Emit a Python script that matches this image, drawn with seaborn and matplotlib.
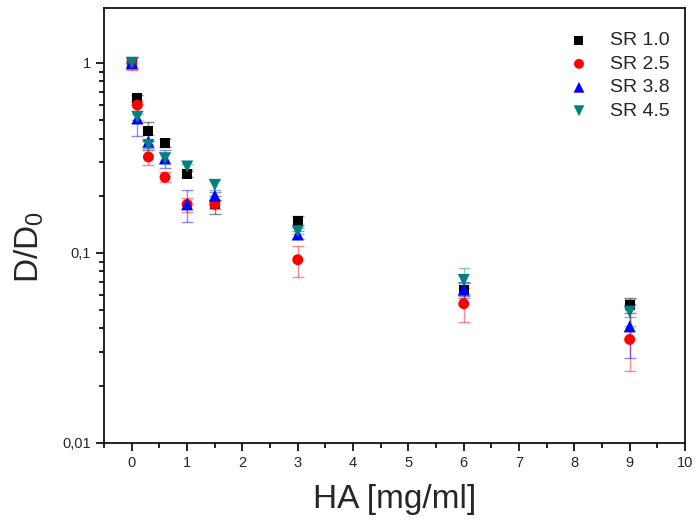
import numpy as np
import pandas as pd
import matplotlib
matplotlib.use("Agg")
import matplotlib.pyplot as plt
import seaborn as sns
from matplotlib.ticker import LogLocator, NullFormatter, MultipleLocator

# --- Daten ---
ha_conc = [0, 0.1, 0.3, 0.6, 1.0, 1.5, 3, 6, 9]
series_names = ["SR 1.0", "SR 2.5", "SR 3.8", "SR 4.5"]

sr10 = [1.0, 0.65, 0.44, 0.38, 0.26, 0.18, 0.148, 0.064, 0.053]
sr10_err = [0.06, 0.03, 0.05, 0.02, 0.01, 0.02, 0.008, 0.005, 0.005]
sr25 = [1.0, 0.60, 0.32, 0.25, 0.18, 0.18, 0.092, 0.054, 0.035]
sr25_err = [0.08, 0.04, 0.03, 0.015, 0.015, 0.01, 0.017, 0.011, 0.011]
sr38 = [1.0, 0.51, 0.385, 0.315, 0.18, 0.20, 0.125, 0.064, 0.041]
sr38_err = [0.07, 0.10, 0.03, 0.035, 0.035, 0.01, 0.006, 0.006, 0.013]
sr45 = [1.0, 0.52, 0.37, 0.315, 0.285, 0.228, 0.13, 0.072, 0.049]
sr45_err = [0.04, 0.02, 0.02, 0.02, 0.01, 0.013, 0.005, 0.011, 0.008]

colors = ["#000000", "#ff0000", "#0000ff", "#008080"]
markers = ["s", "o", "^", "v"]
sizes = [52, 62, 75, 75]

frames = []
for name, vals, errs in zip(series_names,
                            [sr10, sr25, sr38, sr45],
                            [sr10_err, sr25_err, sr38_err, sr45_err]):
    frames.append(pd.DataFrame({"HA": ha_conc, "D": vals, "err": errs, "serie": name}))
df = pd.concat(frames, ignore_index=True)

# --- Plot ---
sns.set_style("ticks")
plt.rcParams["font.family"] = ["Liberation Sans", "DejaVu Sans"]
plt.rcParams["mathtext.fontset"] = "custom"
plt.rcParams["mathtext.rm"] = "Liberation Sans"
plt.rcParams["xtick.direction"] = "out"
plt.rcParams["ytick.direction"] = "out"

fig = plt.figure(figsize=(6.99, 5.24), dpi=100)
ax = fig.add_axes([0.149, 0.155, 0.831, 0.83])

for name, col, mk, sz in zip(series_names, colors, markers, sizes):
    sub = df[df["serie"] == name]
    ax.errorbar(sub["HA"], sub["D"], yerr=sub["err"], fmt="none",
                ecolor=col, alpha=0.45, elinewidth=1, capsize=4, capthick=1, zorder=2)
    sns.scatterplot(data=sub, x="HA", y="D", color=col, marker=mk, s=sz,
                    edgecolor="none", label=name, ax=ax, zorder=3)

ax.set_yscale("log")
ax.set_xlim(-0.5, 10)
ax.set_ylim(0.01, 1.95)
ax.xaxis.set_major_locator(MultipleLocator(1))
ax.xaxis.set_minor_locator(MultipleLocator(0.5))
ax.set_yticks([0.01, 0.1, 1], ["0,01", "0,1", "1"])
ax.yaxis.set_minor_locator(LogLocator(base=10, subs=np.arange(2, 10)))
ax.yaxis.set_minor_formatter(NullFormatter())

ax.tick_params(axis="both", which="major", length=6, width=1.2, labelsize=10.5, color="black")
ax.tick_params(axis="both", which="minor", length=3.5, width=1.2, color="black")
for sp in ax.spines.values():
    sp.set_linewidth(1.2)
    sp.set_color("black")

ax.set_xlabel("HA [mg/ml]", fontsize=24, labelpad=10)
ax.set_ylabel("D/D$_\\mathregular{0}$", fontsize=24)
ax.yaxis.set_label_coords(-0.1, 0.45)

ax.legend(loc="upper right", bbox_to_anchor=(1.004, 0.985), frameon=False, fontsize=14,
          handletextpad=0.6, labelspacing=0.3, markerscale=0.9)

fig.savefig("out.png", dpi=100)
